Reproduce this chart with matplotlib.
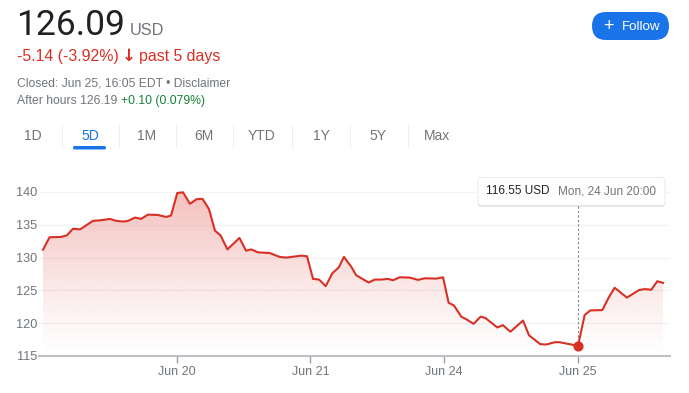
import numpy as np
import matplotlib
matplotlib.use("Agg")
import matplotlib.pyplot as plt
from matplotlib.patches import FancyBboxPatch
from matplotlib.colors import to_rgb

# ---------------- data ----------------
# time in trading sessions since Jun 18 04:00 (one session = 04:00-20:00)
session_time = [
    0.000, 0.049, 0.135, 0.179, 0.224, 0.277, 0.321, 0.374, 0.434, 0.501,
    0.546, 0.598, 0.636, 0.688, 0.733, 0.785, 0.860, 0.920, 0.957,
    1.004, 1.047, 1.099, 1.148, 1.193, 1.241, 1.286, 1.327, 1.379, 1.469,
    1.518, 1.557, 1.607, 1.695, 1.770, 1.819, 1.931, 1.974,
    2.019, 2.064, 2.114, 2.163, 2.211, 2.250, 2.305, 2.342, 2.435, 2.480,
    2.529, 2.579, 2.617, 2.667, 2.742, 2.804, 2.854, 2.941, 2.991,
    3.033, 3.073, 3.127, 3.165, 3.220, 3.272, 3.307, 3.397, 3.439, 3.494,
    3.589, 3.634, 3.718, 3.763, 3.826, 3.863, 3.925, 4.000,
    4.050, 4.092, 4.182, 4.232, 4.274, 4.366, 4.456, 4.499, 4.548, 4.593, 4.636,
]
prices = [
    131.20, 133.10, 133.15, 133.40, 134.40, 134.30, 134.90, 135.60, 135.70, 135.90,
    135.60, 135.50, 135.60, 136.10, 135.90, 136.55, 136.50, 136.20, 136.40,
    139.85, 139.95, 138.20, 138.90, 138.95, 137.40, 134.10, 133.40, 131.25, 133.00,
    131.05, 131.25, 130.80, 130.70, 130.10, 130.00, 130.30, 130.20,
    126.75, 126.65, 125.65, 127.60, 128.50, 130.10, 128.60, 127.30, 126.20, 126.65,
    126.65, 126.75, 126.55, 127.00, 126.95, 126.60, 126.85, 126.80, 127.00,
    123.10, 122.70, 121.00, 120.60, 119.90, 121.00, 120.80, 119.35, 119.70, 118.70,
    120.40, 118.15, 116.80, 116.75, 117.10, 117.10, 116.85, 116.55,
    121.25, 121.95, 122.00, 124.00, 125.40, 123.90, 125.05, 125.20, 125.10, 126.40, 126.15,
]
tick_days = [1, 2, 3, 4]
tick_labels = ["Jun 20", "Jun 21", "Jun 24", "Jun 25"]
y_ticks = [115, 120, 125, 130, 135, 140]
range_tabs = ["1D", "5D", "1M", "6M", "YTD", "1Y", "5Y", "Max"]
active_tab = "5D"
price_text = "126.09"
change_text = "-5.14 (-3.92%)"
closed_text = "Closed: Jun 25, 16:05 EDT \u2022 Disclaimer"
after_price = "126.19"
after_change = "+0.10 (0.079%)"
tooltip_price = "116.55 USD"
tooltip_time = "Mon, 24 Jun 20:00"

# ---------------- styling ----------------
W, H = 689, 393
RED = "#d93025"
GRAY = "#70757a"
DARK = "#202124"
BLUE = "#1a73e8"
GREEN = "#188038"
FONT = ["Liberation Sans", "DejaVu Sans"]
plt.rcParams["font.family"] = FONT

fig = plt.figure(figsize=(W / 100, H / 100), dpi=100)
fig.patch.set_facecolor("white")


def fx(x):
    return x / W


def fy(y):
    return 1 - y / H


# ---------------- header ----------------
fig.text(fx(16), fy(35), price_text, fontsize=25.5, color=DARK, family=["Roboto", "DejaVu Sans"], va="baseline")
fig.text(fx(130), fy(35), "USD", fontsize=11.8, color=GRAY, va="baseline")
fig.text(fx(17), fy(61), change_text, fontsize=11.4, color=RED, va="baseline")
fig.text(fx(122), fy(61), "\u2193", fontsize=12, color=RED, va="baseline", family=["DejaVu Sans"], fontweight="bold")
fig.text(fx(139), fy(61), "past 5 days", fontsize=11.4, color=RED, va="baseline")
fig.text(fx(17), fy(87), closed_text, fontsize=8.7, color=GRAY, va="baseline")
t1 = fig.text(fx(17), fy(104), "After hours " + after_price + " ", fontsize=8.7, color=GRAY, va="baseline")
fig.canvas.draw()
bb = t1.get_window_extent()
fig.text(bb.x1 / W, fy(104), after_change, fontsize=8.7, color=GREEN, va="baseline")

# Follow button
btn = FancyBboxPatch((592 / 100, (H - 40) / 100), 77 / 100, 28 / 100,
                     boxstyle="round,pad=0,rounding_size=0.14",
                     transform=fig.dpi_scale_trans, facecolor=BLUE, edgecolor="none")
fig.patches.append(btn)
fig.text(fx(608), fy(26.5), "+", fontsize=13, color="white", va="center", ha="center")
fig.text(fx(622), fy(26.5), "Follow", fontsize=9.6, color="white", va="center", ha="left")

# range tabs
tab_centers = [33, 90, 147, 204, 262, 321, 378, 437]
for i, (lab, cx) in enumerate(zip(range_tabs, tab_centers)):
    col = BLUE if lab == active_tab else GRAY
    fig.text(fx(cx), fy(136), lab, fontsize=10, color=col, ha="center", va="center")
    if i < len(range_tabs) - 1:
        sx = (cx + tab_centers[i + 1]) / 2
        fig.add_artist(plt.Line2D([fx(sx), fx(sx)], [fy(125), fy(147)], color="#eceef0", lw=0.8))
    if lab == active_tab:
        ul = FancyBboxPatch((73 / 100, (H - 149.5) / 100), 33 / 100, 3.5 / 100,
                            boxstyle="round,pad=0,rounding_size=0.017",
                            transform=fig.dpi_scale_trans, facecolor=BLUE, edgecolor="none")
        fig.patches.append(ul)

# ---------------- chart ----------------
PX_PER_DAY = 133.75
X0 = 43
ax = fig.add_axes([fx(39), fy(356), (670 - 39) / W, (356 - 175) / H])
xlim = ((39 - X0) / PX_PER_DAY, (670 - X0) / PX_PER_DAY)
ylim = (115, 115 + 181 / 6.56)

t = np.array(session_time)
p = np.array(prices)

# gradient fill below line
n = 256
rgba = np.zeros((n, 1, 4))
rgba[..., :3] = to_rgb(RED)
yy = np.linspace(ylim[0], ylim[1], n)
alpha = np.clip((yy - 115) / (141 - 115), 0, 1) ** 1.2 * 0.32
rgba[:, 0, 3] = alpha
im = ax.imshow(rgba, extent=[xlim[0], xlim[1], ylim[0], ylim[1]], origin="lower",
               aspect="auto", zorder=1, interpolation="bilinear")
fb = ax.fill_between(t, p, 115, color="none", lw=0)
im.set_clip_path(fb.get_paths()[0], transform=ax.transData)

# grid lines
for yv in y_ticks[1:]:
    ax.axhline(yv, color="#f3f4f5", lw=1.0, zorder=0.5)

ax.plot(t, p, color=RED, lw=1.5, solid_joinstyle="round", zorder=3)

# highlighted point (minimum)
hl = int(np.argmin(p))
tip_bottom_frac = (356 - 205.5) / 181
ax.axvline(t[hl], ymin=(p[hl] - ylim[0]) / (ylim[1] - ylim[0]), ymax=tip_bottom_frac,
           color="#80868b", lw=0.8, ls=(0, (2, 2)), zorder=2)
ax.plot([t[hl]], [p[hl]], "o", ms=6.3, color=RED, zorder=5, clip_on=False)

ax.set_xlim(*xlim)
ax.set_ylim(*ylim)
for s in ["top", "right", "left"]:
    ax.spines[s].set_visible(False)
ax.spines["bottom"].set_color("#bdc1c6")
ax.spines["bottom"].set_linewidth(1.5)
ax.set_facecolor("none")

ax.set_xticks(tick_days)
ax.set_xticklabels(tick_labels)
ax.set_yticks(y_ticks)
ax.set_yticklabels([str(v) for v in y_ticks])
ax.tick_params(axis="x", length=5, width=1, color="#9aa0a6", labelsize=9, labelcolor=GRAY, pad=2.5)
ax.tick_params(axis="y", length=0, labelsize=9.2, labelcolor=GRAY, pad=1)

# tooltip
shadow = FancyBboxPatch((478 / 100, (H - 207) / 100), 187 / 100, 28 / 100,
                        boxstyle="round,pad=0,rounding_size=0.03",
                        transform=fig.dpi_scale_trans, facecolor=(0, 0, 0, 0.10), edgecolor="none", zorder=8)
fig.patches.append(shadow)
tip = FancyBboxPatch((478 / 100, (H - 205.5) / 100), 187 / 100, 28 / 100,
                     boxstyle="round,pad=0,rounding_size=0.03",
                     transform=fig.dpi_scale_trans, facecolor="white", edgecolor="#e6e6e6", lw=0.6, zorder=9)
fig.patches.append(tip)
fig.text(fx(486), fy(191.5), tooltip_price, fontsize=8.5, color=DARK, va="center", zorder=10)
fig.text(fx(557.5), fy(191.5), tooltip_time, fontsize=8.5, color=GRAY, va="center", zorder=10)

fig.savefig("out.png", dpi=100, facecolor="white")
